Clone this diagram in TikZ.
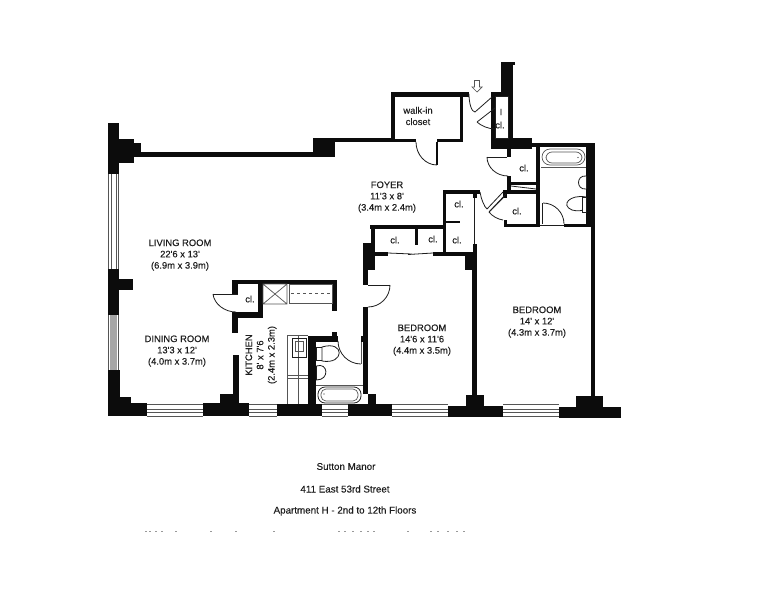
\documentclass[tikz,border=0pt]{standalone}
\usepackage{fontspec}
\setmainfont{Liberation Sans}
\newfontfamily\labfont[FakeBold=0.25]{Liberation Sans}
\usetikzlibrary{calc}
\newcommand{\wl}[4]{\fill[wallc] (#1,#2) rectangle (#3,#4);}
\newcommand{\swing}[6]{\draw[thinl] (#1,#2) .. controls ($(#1,#2)!.55!(#3,#4)$) and ($(#5,#6)!.55!(#3,#4)$) .. (#5,#6);}
\definecolor{wallc}{HTML}{0C0C0C}
\definecolor{inkc}{HTML}{1E1E1E}
\definecolor{fixc}{HTML}{555555}
\tikzset{
 x=1pt,y=-1pt,
 thinl/.style={draw=inkc,line width=0.8pt},
 fixl/.style={draw=fixc,line width=0.7pt},
 winl/.style={draw=fixc,line width=0.8pt},
 lab/.style={font=\labfont\fontsize{9.4}{11.3}\selectfont,text=inkc,inner sep=0pt,align=center},
 foot/.style={font=\labfont\fontsize{9.8}{11}\selectfont,text=inkc,inner sep=0pt},
}
\begin{document}
\begin{tikzpicture}
\useasboundingbox (0,0) rectangle (776,600);
% --- left wall and corner
\wl{108}{123}{119}{174} \wl{119}{139}{134}{163} \wl{134}{143}{141}{157}
\wl{141}{152}{315}{157} \wl{313}{138}{335}{157} \wl{335}{138}{393}{142}
\wl{108}{269}{119}{315} \wl{119}{279}{133}{290}
\wl{108}{370}{120}{416} \wl{120}{397}{131}{416} \wl{131}{403}{147}{416}
% left windows
\draw[winl] (108.5,174)--(108.5,269) (111,174)--(111,269) (116,174)--(116,269) (118.5,174)--(118.5,269);
\fill[black!35] (110,315) rectangle (117,370);
\draw[winl] (108.5,315)--(108.5,370) (118.5,315)--(118.5,370);
% --- bottom wall
\wl{203}{403}{249}{416} \wl{220}{394}{239}{404}
\wl{277}{404}{322}{416} \wl{348}{404}{392}{416} \wl{368}{394}{376}{405}
\wl{448}{406}{503}{417} \wl{466}{395}{484}{407}
\wl{559}{407}{621}{418} \wl{576}{396}{603}{407}
\foreach \a/\b in {147/203,249/277,322/348,392/448,503/559}{
  \draw[winl] (\a,404.5)--(\b,404.5) (\a,409.5)--(\b,409.5) (\a,412)--(\b,412) (\a,416)--(\b,416);
}
% --- walk-in closet
\wl{391}{92}{469}{97} \wl{391}{92}{395}{142} \wl{460}{92}{463}{142}
\wl{391}{139}{416}{142} \wl{437}{139}{463}{142} \wl{436.3}{142}{437.7}{165}
\swing{416}{142}{416}{165}{437}{165}
% --- entry
\wl{501}{62}{515}{65} \wl{501}{62}{513}{93} \wl{508}{62}{513}{139}
\wl{491}{92}{508}{96} \wl{491}{92}{495}{149} \wl{491}{138}{532}{149}
\swing{469}{94}{469}{112}{475}{112}
\draw[thinl] (475,112)--(492,97);
\draw[thinl] (495,108)--(477,122);
\swing{477}{122}{484}{129}{495}{129}
\draw[thinl] (495,96) rectangle (508,138);
\draw[fixl,fill=white] (474.5,80.5)--(479.5,80.5)--(479.5,87)--(482,87)--(477,92)--(472,87)--(474.5,87)--cycle;
% --- hall closets and bath at right
\wl{532}{143}{595}{147} \wl{536}{147}{540}{227}
\wl{507}{149}{511}{157} \wl{507}{176}{511}{193}
\wl{507}{182}{536}{185} \wl{503}{190}{536}{194}
\draw[thinl] (511,186)--(536,189);
\draw[thinl] (487,157)--(507,157);
\swing{487}{157}{487}{176}{508}{176}
\wl{503}{190}{507}{198} \wl{504}{220}{507}{227} \wl{504}{224}{540}{227}
\draw[thinl] (487,209)--(503,192) (490,211)--(506,194);
\swing{480}{192}{482}{205}{487}{209}
\draw[thinl] (503,198)--(489,212);
\swing{489}{212}{494}{219}{503}{220}
% --- bath 1
\wl{586}{147}{595}{227} \wl{591}{227}{595}{396}
\wl{564}{224}{587}{227}
\draw[thinl] (540,225)--(564,225);
\draw[thinl] (542.7,203)--(542.7,224);
\swing{543}{203}{564}{203}{564}{224}
\draw[fixl] (541,167)--(586,167);
\draw[fixl,rounded corners=8pt] (542,149) rectangle (585,165);
\draw[fixl,rounded corners=6pt] (546,152) rectangle (582,163);
\fill[inkc] (578,157.5) circle (0.7);
\draw[thinl,fill=white] (586,176) .. controls (576,175) and (576,190) .. (586,189);
\draw[thinl,fill=white] (586,197) .. controls (570,194) and (560,205) .. (572,210) .. controls (578,212) and (584,210) .. (586,209);
\draw[thinl,fill=white] (582,197) rectangle (586,212);
% --- central closets
\wl{443}{190}{480}{194} \wl{443}{190}{446}{252} \wl{446}{221}{460}{223}
\wl{473}{194}{477}{198} \wl{370}{225}{443}{229} \wl{371}{225}{375}{245}
\wl{363}{243}{375}{270} \wl{415}{229}{418}{245}
\wl{375}{252}{388}{256} \wl{433}{252}{473}{256}
\wl{465}{255}{477}{270} \wl{473}{244}{477}{270} \wl{472}{270}{477}{395}
\draw[thinl] (474,198)--(474,244);
\draw[thinl] (388,253)--(412,254) (408,254.5)--(433,253);
% --- bedroom 1 west wall and door
\wl{363}{270}{368}{285} \wl{363}{307}{368}{394}
\draw[thinl] (368,285)--(390,285);
\swing{390}{285}{390}{307}{368}{307}
% --- kitchen
\wl{232}{280}{337}{284} \wl{232}{280}{238}{294} \wl{232}{312}{238}{333}
\wl{232}{312}{263}{318} \wl{258}{284}{263}{318} \wl{332}{284}{337}{311}
\draw[thinl] (213,294)--(238,294);
\swing{213}{294}{215}{312}{236}{312}
\wl{233}{355}{239}{395}
\draw[fixl] (263,284) rectangle (287,304) (263,284)--(287,304) (287,284)--(263,304);
\draw[fixl] (289,284) rectangle (332,303);
\draw[fixl,dashed] (291,293.5)--(331,293.5);
% counter
\draw[fixl] (287,335)--(308,335) (287,335)--(287,404) (298,335)--(298,404)
 (287,375)--(308,375) (287,378)--(308,378);
\draw[thinl] (292,338) rectangle (306,357);
\draw[fixl] (295,341) rectangle (303,351);
% --- bath 2
\wl{308}{337}{316}{405} \wl{308}{336}{338}{342} \wl{332}{332}{337}{336}
\wl{361}{336}{363}{342}
\draw[fixl] (361.5,342)--(361.5,364);
\swing{338}{341}{338}{364}{361}{364}
\draw[thinl] (322,347) rectangle (316.5,360);
\draw[thinl,fill=white] (322,347) .. controls (345,340) and (345,365) .. (322,361) -- cycle;
\draw[thinl,fill=white] (316.5,366) .. controls (328,362) and (330,380) .. (316.5,380) -- cycle;
\draw[fixl] (316,385)--(363,385);
\draw[thinl,rounded corners=7pt] (318,387) rectangle (361,403);
\draw[fixl,rounded corners=5pt] (321,389) rectangle (358,401);
\fill[inkc] (324,394) circle (0.7);
% --- specks under the address block
\foreach \s in {145,149,155,161,175,210,235,273,338,344,352,360,367,373,407,430,437,447,456,463}{
  \fill[black!40] (\s,530.5) rectangle ++(1.6,1);
}
% --- labels
\node[lab] (t1) at (180,255) {LIVING ROOM\\22'6 x 13'\\(6.9m x 3.9m)};
\node[lab] (t2) at (177,351) {DINING ROOM\\13'3 x 12'\\(4.0m x 3.7m)};
\node[lab] (t3) at (387,197) {FOYER\\11'3 x 8'\\(3.4m x 2.4m)};
\node[lab] (t4) at (422,340) {BEDROOM\\14'6 x 11'6\\(4.4m x 3.5m)};
\node[lab] (t5) at (537,322) {BEDROOM\\14' x 12'\\(4.3m x 3.7m)};
\node[lab,rotate=90] (t6) at (261,355) {KITCHEN\\8' x 7'6\\(2.4m x 2.3m)};
\node[lab] (t7) at (418,116) {walk-in\\closet};
\node[lab] (c1) at (501,112) {I};
\node[lab] (c2) at (500,125) {cl.};
\node[lab] (c3) at (524,168) {cl.};
\node[lab] (c4) at (517,211) {cl.};
\node[lab] (c5) at (459,204) {cl.};
\node[lab] (c6) at (395,240) {cl.};
\node[lab] (c7) at (433,239) {cl.};
\node[lab] (c8) at (457,240) {cl.};
\node[lab] (c9) at (250,299) {cl.};
\node[foot] (f1) at (346,466.5) {Sutton Manor};
\node[foot] (f2) at (345,489) {411 East 53rd Street};
\node[foot] (f3) at (345,511) {Apartment H - 2nd to 12th Floors};
\end{tikzpicture}
\end{document}
